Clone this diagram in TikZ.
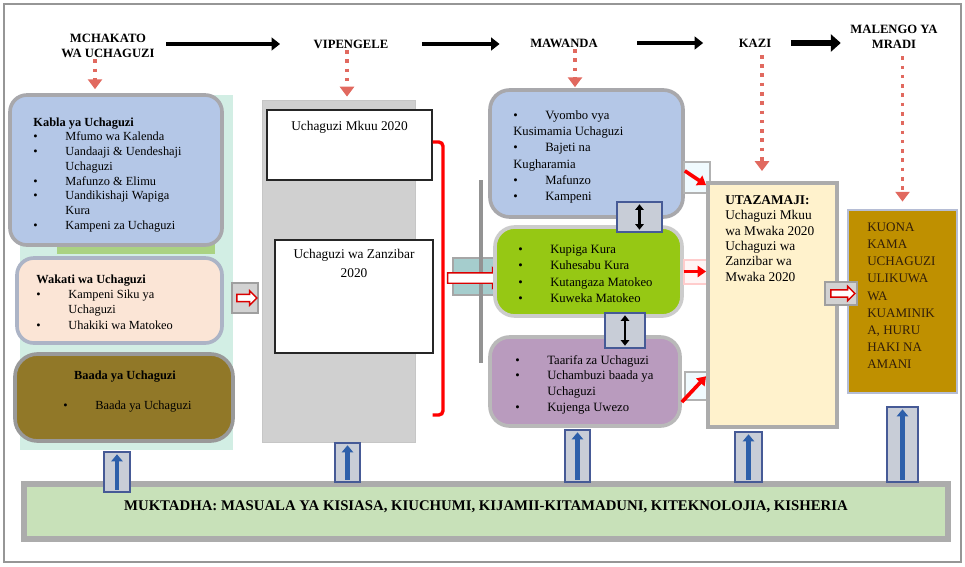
\documentclass[tikz,border=0pt]{standalone}
\usepackage{fontspec}
\setmainfont{Liberation Serif}
\usetikzlibrary{positioning, fit, arrows.meta, shapes.arrows}

\newlength{\pxu}
\setlength{\pxu}{0.025cm}
\newcommand{\bul}{\makebox[32\pxu][l]{\textbullet}}
\newcommand{\hang}{\hspace*{32\pxu}}

\definecolor{framegray}{RGB}{150,150,150}
\definecolor{kablablue}{RGB}{180,199,231}
\definecolor{wakatipeach}{RGB}{251,229,214}
\definecolor{wakatiedge}{RGB}{172,180,198}
\definecolor{baadaolive}{RGB}{145,120,40}
\definecolor{colgray}{RGB}{208,208,208}
\definecolor{kazigreen}{RGB}{150,200,20}
\definecolor{purplebox}{RGB}{185,155,190}
\definecolor{creambox}{RGB}{255,242,204}
\definecolor{goldbox}{RGB}{191,144,0}
\definecolor{muktadhagreen}{RGB}{200,225,185}
\definecolor{arrowblue}{RGB}{45,95,170}
\definecolor{dotred}{RGB}{225,105,95}
\definecolor{mintbg}{RGB}{210,238,228}
\definecolor{stripgreen}{RGB}{170,210,130}
\definecolor{tealbg}{RGB}{165,205,205}
\definecolor{edgegray}{RGB}{168,168,172}
\definecolor{risergray}{RGB}{200,205,215}
\definecolor{riseredge}{RGB}{70,90,150}
\definecolor{goaltext}{RGB}{50,30,10}

\tikzset{
panel/.style={draw=edgegray, line width=2.6pt, rounded corners=12pt, inner sep=0pt},
flatbox/.style={draw=black!85, line width=0.8pt, fill=white, inner sep=0pt},
hdr/.style={font=\fontsize{9}{10.5}\selectfont\bfseries, align=center, inner sep=1pt},
txt/.style={font=\fontsize{8.8}{10.5}\selectfont, align=left, inner sep=0pt, anchor=north west},
midtxt/.style={font=\fontsize{9}{11.6}\selectfont, align=left, inner sep=0pt, anchor=north west},
flow/.style={line width=2.8pt, -{Triangle[length=6pt,width=9pt]}},
dotarrow/.style={draw=dotred, line width=2.6pt, dash pattern=on 2.6pt off 4pt, -{Triangle[length=7pt,width=10pt,fill=dotred]}},
linkbox/.style={draw=gray!75, fill=gray!35, line width=1.2pt, inner sep=0pt},
hollow/.style={single arrow, draw=red!85!black, fill=white, line width=1pt, inner sep=2.1pt, single arrow head extend=2.5pt},
redlink/.style={draw=red, line width=2.6pt, -{Triangle[length=6pt,width=8pt]}},
swaparrow/.style={line width=2pt, {Triangle[length=4pt,width=6pt]}-{Triangle[length=4pt,width=6pt]}},
riser/.style={draw=riseredge, fill=risergray, line width=1pt, inner sep=0pt},
uparrow/.style={draw=arrowblue, line width=3pt, -{Triangle[length=5pt,width=8pt]}},
}

\begin{document}
\begin{tikzpicture}[x=0.025cm, y=-0.025cm]
\useasboundingbox (0,0) rectangle (965,566);
\draw[framegray, line width=1.6pt] (4,4) rectangle (961,562);

% header row
\node[hdr] (mchakato) at (108,46) {MCHAKATO\\WA UCHAGUZI};
\node[hdr] (vipengele) at (351,44) {VIPENGELE};
\node[hdr] (mawanda) at (564,43) {MAWANDA};
\node[hdr] (kazi) at (755,43) {KAZI};
\node[hdr] (malengo) at (894,37) {MALENGO YA\\MRADI};

% left column
\fill[mintbg] (20,95) rectangle (233,450);
\fill[stripgreen] (57,236) rectangle (215,254);
\node[panel, fill=kablablue, fit={(10,95) (222,245)}] (kabla) {};
\node[panel, draw=wakatiedge, fill=wakatipeach, fit={(17,258) (222,343)}] (wakati) {};
\node[panel, draw=gray!80, fill=baadaolive, rounded corners=16pt, fit={(15,354) (233,441)}] (baada) {};

\node[txt] (kablatxt) at ([shift={(25,24)}]kabla.north west) {\textbf{Kabla ya Uchaguzi}\\
\bul Mfumo wa Kalenda\\
\bul Uandaaji \& Uendeshaji\\
\hang Uchaguzi\\
\bul Mafunzo \& Elimu\\
\bul Uandikishaji Wapiga\\
\hang Kura\\
\bul Kampeni za Uchaguzi};
\node[txt, font=\fontsize{8.8}{11}\selectfont] (wakatitxt) at ([shift={(21,18)}]wakati.north west) {\textbf{Wakati wa Uchaguzi}\\
\bul Kampeni Siku ya\\
\hang Uchaguzi\\
\bul Uhakiki wa Matokeo};
\node[font=\fontsize{8.8}{10.4}\selectfont\bfseries] (baadatitle) at (125,377) {Baada ya Uchaguzi};
\node[txt, anchor=west] (baadatxt) at (63,407) {\bul Baada ya Uchaguzi};

% vipengele column
\node[fit={(262,100) (415,442)}, inner sep=0pt, fill=colgray, draw=gray!45, line width=0.6pt] (vipcol) {};
\node[flatbox, fit={(267,110) (432,180)}] (mkuu) {};
\node[flatbox, fit={(275,240) (433,353)}] (zanzibar) {};
\node[font=\fontsize{9.5}{13.5}\selectfont, anchor=north, inner sep=0pt] (mkuutxt) at ([shift={(0,12)}]mkuu.north) {Uchaguzi Mkuu 2020};
\node[font=\fontsize{9.5}{13.5}\selectfont, align=center, anchor=north, inner sep=0pt] (zanzibartxt) at ([shift={(0,10)}]zanzibar.north) {Uchaguzi wa Zanzibar\\2020};

\coordinate (brtop) at (443,142);
\coordinate (brbot) at (443,415);
\draw[red, line width=2.4pt, rounded corners=3pt] (brtop -| mkuu.east) -- (brtop) -- (brbot) -- (brbot -| mkuu.east);

\node[fit={(453,258) (503,295)}, inner sep=0pt, fill=tealbg, draw=gray!70, line width=1.2pt] (midlink) {};
\draw[gray!85, line width=3pt] (481,180) -- (481,363);
\node[hollow, minimum height=55\pxu, inner sep=3.2pt, single arrow head extend=3.5pt] (bigarrow) at (472.5,278) {};

% mawanda column
\node[panel, fill=kablablue, rounded corners=14pt, fit={(490,90) (683,217)}] (vyombo) {};
\node[panel, draw=gray!40, fill=kazigreen, rounded corners=14pt, fit={(495,227) (682,316)}] (kupiga) {};
\node[panel, draw=gray!55, fill=purplebox, rounded corners=14pt, fit={(490,337) (680,426)}] (taarifa) {};

\node[midtxt] (vyombotxt) at (513,110) {\bul Vyombo vya\\
Kusimamia Uchaguzi\\
\bul Bajeti na\\
Kugharamia\\
\bul Mafunzo\\
\bul Kampeni};
\node[midtxt] (kupigatxt) at (518,245) {\bul Kupiga Kura\\
\bul Kuhesabu Kura\\
\bul Kutangaza Matokeo\\
\bul Kuweka Matokeo};
\node[midtxt, font=\fontsize{9}{11.2}\selectfont] (taarifatxt) at (515,355) {\bul Taarifa za Uchaguzi\\
\bul Uchambuzi baada ya\\
\hang Uchaguzi\\
\bul Kujenga Uwezo};

\node[riser, fit={(617,202) (662,232)}] (swap1) {};
\node[riser, fit={(605,313) (645,348)}] (swap2) {};
\draw[swaparrow, shorten <=3\pxu, shorten >=3\pxu] (swap1.north) -- (swap1.south);
\draw[swaparrow, shorten <=3\pxu, shorten >=3\pxu] (swap2.north) -- (swap2.south);

% kazi column
\node[fit={(684,162) (710,193)}, inner sep=0pt, fill=cyan!6, draw=gray!60, line width=1pt] (lk1) {};
\node[fit={(684,260) (710,284)}, inner sep=0pt, fill=red!4, draw=red!20, line width=1pt] (lk2) {};
\node[fit={(685,372) (710,400)}, inner sep=0pt, fill=cyan!6, draw=gray!60, line width=1pt] (lk3) {};
\node[fit={(708,183) (837,427)}, inner sep=0pt, fill=creambox, draw=gray!65, line width=2.8pt] (utaz) {};
\node[font=\fontsize{9.5}{11}\selectfont, align=left, anchor=north west, inner sep=0pt] (utaztxt) at (725,195) {\textbf{UTAZAMAJI:}\\
Uchaguzi Mkuu\\
wa Mwaka 2020\\
Uchaguzi wa\\
Zanzibar wa\\
Mwaka 2020};

\draw[redlink] (vyombo.-10) -- (utaz.119);
\draw[redlink] (kupiga.east) -- (kupiga.east -| utaz.west);
\draw[redlink] (taarifa.-12) -- (utaz.-133);

% malengo column
\node[fit={(848,210) (957,393)}, inner sep=0pt, fill=goldbox, draw=riseredge!40, line width=2pt] (goal) {};
\node[font=\fontsize{9.3}{12.1}\selectfont, text=goaltext, align=left, anchor=north west, inner sep=0pt] (goaltxt) at (867,223) {KUONA\\
KAMA\\
UCHAGUZI\\
ULIKUWA\\
WA\\
KUAMINIK\\
A, HURU\\
HAKI NA\\
AMANI};

% small hollow links
\node[linkbox, fit={(232,283) (258,313)}] (wlink) {};
\node[hollow, minimum height=20\pxu] (warrow) at (wlink) {};
\node[linkbox, fit={(825,282) (857,305)}] (glink) {};
\node[hollow, minimum height=24\pxu] (garrow) at (glink) {};

% top flow arrows
\draw[flow, shorten <=10\pxu, shorten >=32\pxu] (mchakato.east |- vipengele) -- (vipengele.west);
\draw[flow, shorten <=32\pxu, shorten >=29\pxu] (vipengele.east) -- (vipengele.east -| mawanda.west);
\draw[flow, shorten <=38\pxu, shorten >=34\pxu] (mawanda.east) -- (mawanda.east -| kazi.west);
\draw[line width=4.3pt, -{Triangle[length=7pt,width=12pt]}, shorten <=18\pxu, shorten >=8\pxu] (kazi.east) -- (kazi.east -| malengo.west);

% dotted drops
\draw[dotarrow] ([xshift=-13\pxu]mchakato.south) coordinate (d1) -- ([yshift=4\pxu]d1 |- kabla.north);
\draw[dotarrow] ([xshift=-4\pxu]vipengele.south) coordinate (d2) -- ([yshift=3\pxu]d2 |- vipcol.north);
\draw[dotarrow] ([xshift=11\pxu]mawanda.south) coordinate (d3) -- ([yshift=1\pxu]d3 |- vyombo.north);
\draw[dotarrow, shorten <=6\pxu] ([xshift=7\pxu]kazi.south) coordinate (d4) -- ([yshift=10\pxu]d4 |- utaz.north);
\draw[dotarrow, shorten <=6\pxu] (malengo.south -| goal.north) coordinate (d5) -- ([yshift=7\pxu]d5 |- goal.north);

% context bar
\node[fit={(24,484) (948,539)}, inner sep=0pt, fill=muktadhagreen, draw=gray!65, line width=4.5pt, font=\fontsize{10.5}{12}\selectfont\bfseries] (muktadha) {MUKTADHA: MASUALA YA KISIASA, KIUCHUMI, KIJAMII-KITAMADUNI, KITEKNOLOJIA, KISHERIA};

\node[riser, fit={(104,452) (130,492)}] (r1) {};
\node[riser, fit={(335,443) (360,482)}] (r2) {};
\node[riser, fit={(565,430) (590,482)}] (r3) {};
\node[riser, fit={(735,432) (762,482)}] (r4) {};
\node[riser, fit={(887,407) (918,482)}] (r5) {};
\foreach \r in {r1,r2,r3,r4,r5}
  \draw[uparrow, shorten <=3\pxu, shorten >=3\pxu] (\r.south) -- (\r.north);
\end{tikzpicture}
\end{document}
